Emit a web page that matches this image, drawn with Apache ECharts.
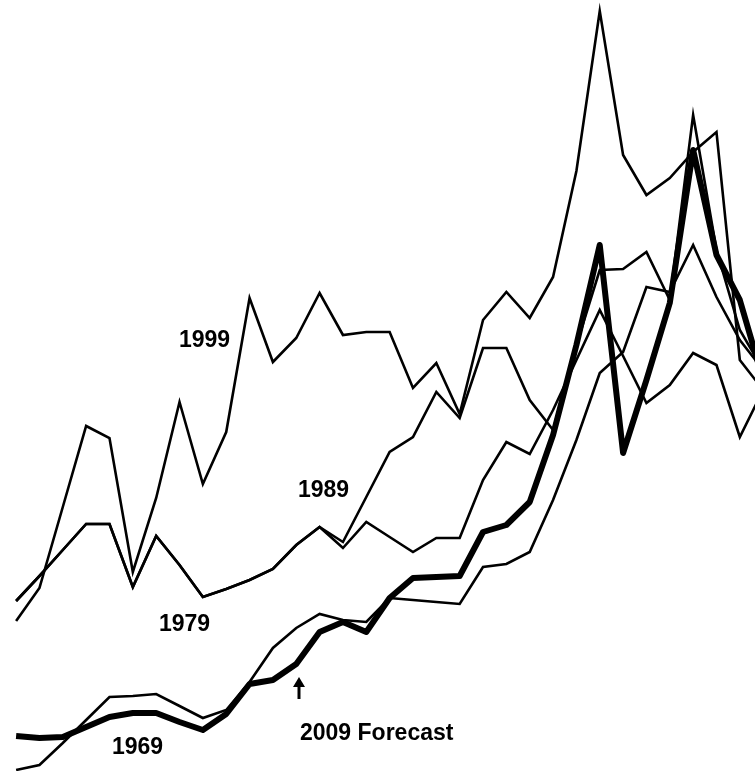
<!DOCTYPE html>
<html>
<head>
<meta charset="utf-8">
<script src="https://cdn.jsdelivr.net/npm/echarts@6/dist/echarts.min.js"></script>
<style>
  html, body { margin: 0; padding: 0; background: #fff; }
  #chart { width: 755px; height: 771px; }
</style>
</head>
<body>
<div id="chart"></div>
<script>
var chart = echarts.init(document.getElementById('chart'));

// period index along the x axis
var steps = [0,1,2,3,4,5,6,7,8,9,10,11,12,13,14,15,16,17,18,19,20,21,22,23,24,25,26,27,28,29,30,31,32];

var y1999 = [150,183,264,345,333,199,273,369,287,339,473,409,433,478,436,439,439,383,408,357,451,479,453,494,600,760,616,576,593,619,639,411,381];
var y1989 = [170,195,221,247,247,184,235,206,174,182,191,202,226,244,229,274,319,334,379,353,423,423,371,341,426,501,502,519,471,656,521,441,401];
var y1979 = [170,195,221,247,247,184,235,206,174,182,191,202,226,244,223,249,234,219,233,233,291,329,317,361,411,461,415,368,386,418,406,334,381];
var y1969 = [1,6,28,51,74,75,77,65,53,61,89,123,143,157,151,149,173,171,169,167,204,207,219,271,331,398,419,484,479,526,474,431,401];
var y2009 = [35,33,34,44,54,58,58,49,41,57,87,91,107,139,149,139,173,193,194,195,239,246,269,336,426,526,318,391,468,621,516,471,391];

function pairs(vals){
  var out = [];
  for (var i = 0; i < steps.length; i++){
    out.push([steps[i], vals[i]]);
  }
  return out;
}

function thin(name, vals){
  return {
    name: name,
    type: 'line',
    data: pairs(vals),
    symbol: 'none',
    clip: true,
    lineStyle: { color: '#000', width: 2.6, join: 'miter' }
  };
}

var labelFont = 'bold 23px "Liberation Sans", Arial, sans-serif';

var option = {
  animation: false,
  backgroundColor: '#fff',
  grid: { left: 14, right: 0, top: 0, bottom: 0 },
  xAxis: { type: 'value', min: -0.09, max: 31.65, show: false },
  yAxis: { type: 'value', min: 0, max: 771, show: false },
  series: [
    thin('1999', y1999),
    thin('1989', y1989),
    thin('1979', y1979),
    thin('1969', y1969),
    {
      name: '2009 Forecast',
      type: 'line',
      data: pairs(y2009),
      symbol: 'none',
      clip: true,
      z: 3,
      lineStyle: { color: '#000', width: 6, join: 'round' }
    }
  ],
  graphic: [
    { type: 'text', left: 179, top: 329, style: { text: '1999', font: labelFont, fill: '#000' } },
    { type: 'text', left: 298, top: 479, style: { text: '1989', font: labelFont, fill: '#000' } },
    { type: 'text', left: 159, top: 613, style: { text: '1979', font: labelFont, fill: '#000' } },
    { type: 'text', left: 112, top: 736, style: { text: '1969', font: labelFont, fill: '#000' } },
    { type: 'text', left: 300, top: 722, style: { text: '2009 Forecast', font: labelFont, fill: '#000' } },
    { type: 'line', shape: { x1: 299, y1: 699, x2: 299, y2: 684 }, style: { stroke: '#000', lineWidth: 3 } },
    { type: 'polygon', shape: { points: [[293, 687], [299, 677], [305, 687]] }, style: { fill: '#000' } }
  ]
};

chart.setOption(option);
</script>
</body>
</html>
